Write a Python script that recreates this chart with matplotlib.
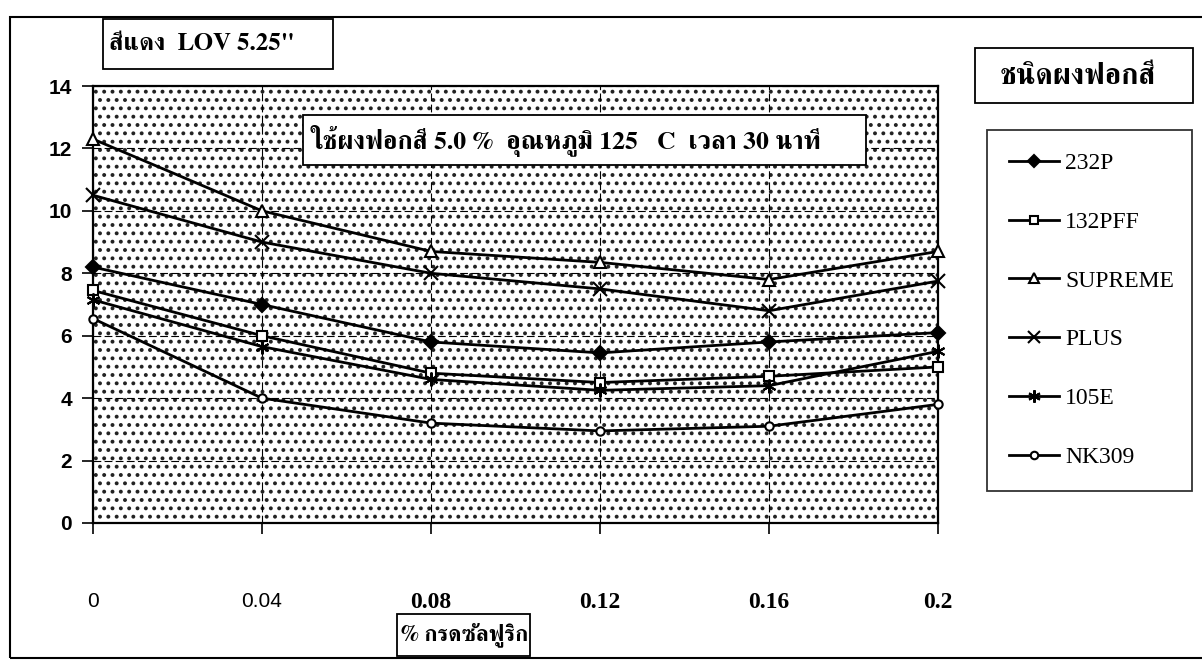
import matplotlib
matplotlib.use("Agg")
import matplotlib.pyplot as plt
from matplotlib.patches import Rectangle

plt.rcParams['hatch.linewidth'] = 1.6

x = [0, 0.04, 0.08, 0.12, 0.16, 0.2]
x_labels = ['0', '0.04', '0.08', '0.12', '0.16', '0.2']
s_232p = [8.2, 7.0, 5.8, 5.45, 5.8, 6.1]
s_132pff = [7.45, 6.0, 4.8, 4.5, 4.7, 5.0]
s_supreme = [12.3, 10.0, 8.7, 8.35, 7.8, 8.7]
s_plus = [10.5, 9.0, 8.0, 7.5, 6.8, 7.75]
s_105e = [7.15, 5.65, 4.6, 4.25, 4.4, 5.5]
s_nk309 = [6.55, 4.0, 3.2, 2.95, 3.1, 3.8]
names = ['232P', '132PFF', 'SUPREME', 'PLUS', '105E', 'NK309']

W, H = 1202, 663
fig = plt.figure(figsize=(W / 100, H / 100), dpi=100)
ax = fig.add_axes([93 / W, 1 - 523 / H, (938 - 93) / W, (523 - 86) / H])

thai = ['FreeSerif', 'DejaVu Sans']

# dotted background
ax.add_patch(Rectangle((0, 0), 1, 1, transform=ax.transAxes, facecolor='white',
                       edgecolor='#222222', hatch='..', lw=0, zorder=0))

series = [s_232p, s_132pff, s_supreme, s_plus, s_105e, s_nk309]
markers = ['D', 's', '^', 'x', (6, 2, 0), 'o']
faces = ['black', 'white', 'white', 'black', 'black', 'white']
sizes = [7, 7, 8, 10, 10, 6]
for ys, nm, mk, fc, ms in zip(series, names, markers, faces, sizes):
    ax.plot(x, ys, color='black', lw=2.0, marker=mk, markersize=ms,
            markerfacecolor=fc, markeredgecolor='black', markeredgewidth=1.5,
            label=nm, zorder=3, clip_on=False)

ax.set_xlim(0, 0.2)
ax.set_ylim(0, 14)
ax.set_xticks(x)
ax.set_xticklabels(x_labels)
ax.set_yticks(range(0, 15, 2))
ax.tick_params(axis='x', direction='out', length=8, width=1.2, pad=42)
ax.tick_params(axis='y', direction='out', length=8, width=1.2, pad=7)
for i, t in enumerate(ax.xaxis.get_major_ticks()):
    if i < 2:
        t.label1.set_fontfamily('Liberation Sans')
        t.label1.set_fontsize(15)
    else:
        t.label1.set_fontfamily('Liberation Serif')
        t.label1.set_fontsize(17)
        t.label1.set_fontweight('bold')
for t in ax.yaxis.get_major_ticks():
    t.label1.set_fontfamily('Liberation Sans')
    t.label1.set_fontsize(15)
    t.label1.set_fontweight('bold')
for sp in ax.spines.values():
    sp.set_linewidth(1.6)
ax.grid(True, color='black', linestyle=(0, (7, 3)), lw=0.8)
ax.set_axisbelow(True)

leg = ax.legend(loc='upper left', bbox_to_anchor=(987 / W, 1 - 482 / H, 205 / W, (482 - 130) / H),
                bbox_transform=fig.transFigure, mode='expand', frameon=True, fancybox=False,
                edgecolor='black', prop={'family': 'Liberation Serif', 'size': 17},
                labelspacing=1.58, handlelength=2.1, handletextpad=0.25,
                borderaxespad=0, borderpad=0.95, markerscale=0.9)
leg.get_frame().set_linewidth(1.3)


def box(x0, y0, x1, y1, lw=1.3):
    fig.add_artist(Rectangle((x0 / W, 1 - y1 / H), (x1 - x0) / W, (y1 - y0) / H,
                             transform=fig.transFigure, facecolor='white',
                             edgecolor='black', lw=lw, zorder=5))


# outer frame
fig.add_artist(Rectangle((10 / W, 1 - 658 / H), 1.2, (658 - 17) / H, transform=fig.transFigure,
                         facecolor='none', edgecolor='black', lw=1.5))

box(103, 19, 333, 69)
fig.text(109 / W, 1 - 44 / H, 'สีแดง  LOV 5.25"', family=thai, fontsize=18, weight='bold',
         va='center', ha='left', zorder=6)
box(303, 115, 866, 165)
fig.text(310 / W, 1 - 141 / H, 'ใช้ผงฟอกสี 5.0 %  อุณหภูมิ 125   C  เวลา 30 นาที', family=thai,
         fontsize=18.5, weight='bold', va='center', ha='left', zorder=6)
box(975, 48, 1193, 103)
fig.text(1078 / W, 1 - 77 / H, 'ชนิดผงฟอกสี', family=thai, fontsize=21, weight='bold',
         va='center', ha='center', zorder=6)
box(397, 614, 530, 656)
fig.text(401 / W, 1 - 635 / H, '% กรดซัลฟูริก', family=thai, fontsize=16, weight='bold',
         va='center', ha='left', zorder=6)

fig.savefig('out.png', dpi=100)
